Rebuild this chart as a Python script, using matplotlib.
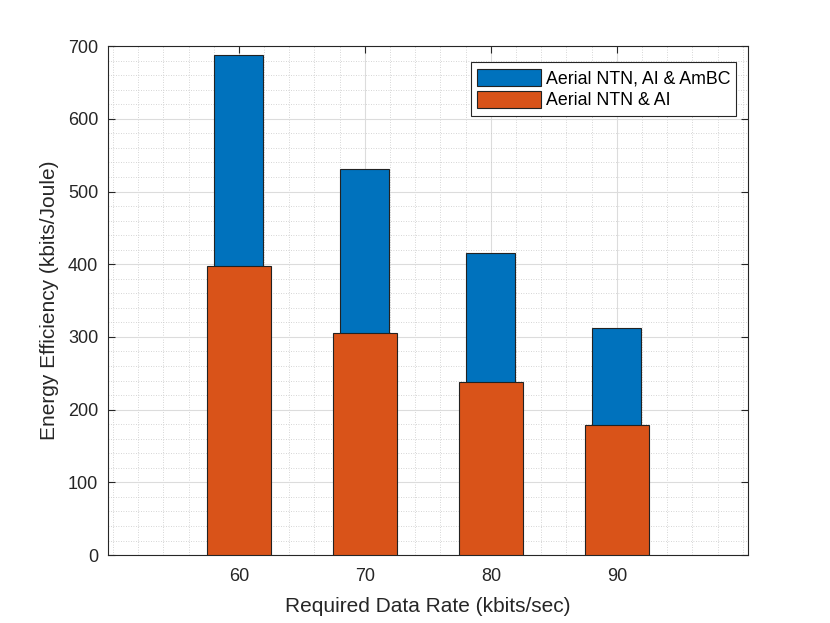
import matplotlib
matplotlib.use('Agg')
import matplotlib.pyplot as plt
from matplotlib.ticker import MultipleLocator

plt.rcParams['font.family'] = ['Liberation Sans', 'DejaVu Sans']

rates = [60, 70, 80, 90]
ee_ntn_ai_ambc = [688, 531, 415, 312]
ee_ntn_ai = [397, 305, 238, 179]

fig = plt.figure(figsize=(8.3, 6.23), dpi=100)
ax = fig.add_axes([0.130, 0.109, 0.771, 0.817])

ax.bar(rates, ee_ntn_ai_ambc, width=3.9, color='#0072BD', edgecolor='#222222',
       linewidth=0.8, label='Aerial NTN, AI & AmBC', zorder=3)
ax.bar(rates, ee_ntn_ai, width=5.1, color='#D95319', edgecolor='#222222',
       linewidth=0.8, label='Aerial NTN & AI', zorder=4)

ax.set_xlim(49.6, 100.4)
ax.set_ylim(0, 700)
ax.set_xticks(rates)
ax.set_yticks(range(0, 701, 100))
ax.xaxis.set_minor_locator(MultipleLocator(2))
ax.yaxis.set_minor_locator(MultipleLocator(20))

ax.grid(which='major', color='#dcdcdc', linewidth=0.8, zorder=0)
ax.grid(which='minor', color='#c8c8c8', linestyle=(0, (1, 2)), linewidth=0.6, zorder=0)
ax.set_axisbelow(True)

ax.tick_params(which='major', direction='in', top=True, right=True, length=5,
               labelsize=13, colors='#262626', width=0.8)
ax.tick_params(axis='x', which='major', pad=9)
ax.tick_params(axis='y', which='major', pad=7)
ax.tick_params(which='minor', length=0, top=True, right=True)
for s in ax.spines.values():
    s.set_color('#262626')
    s.set_linewidth(0.8)

ax.set_xlabel('Required Data Rate (kbits/sec)', fontsize=15, color='#262626', labelpad=9)
ax.set_ylabel('Energy Efficiency (kbits/Joule)', fontsize=15, color='#262626', labelpad=6)

leg = ax.legend(loc='upper right', bbox_to_anchor=(0.982, 0.968), fontsize=12.8,
                fancybox=False, framealpha=1, edgecolor='#262626',
                handlelength=3.6, handleheight=1.1, borderpad=0.35,
                labelspacing=0.2, handletextpad=0.25, borderaxespad=0)
leg.get_frame().set_linewidth(0.8)

fig.savefig('out.png', dpi=100)
